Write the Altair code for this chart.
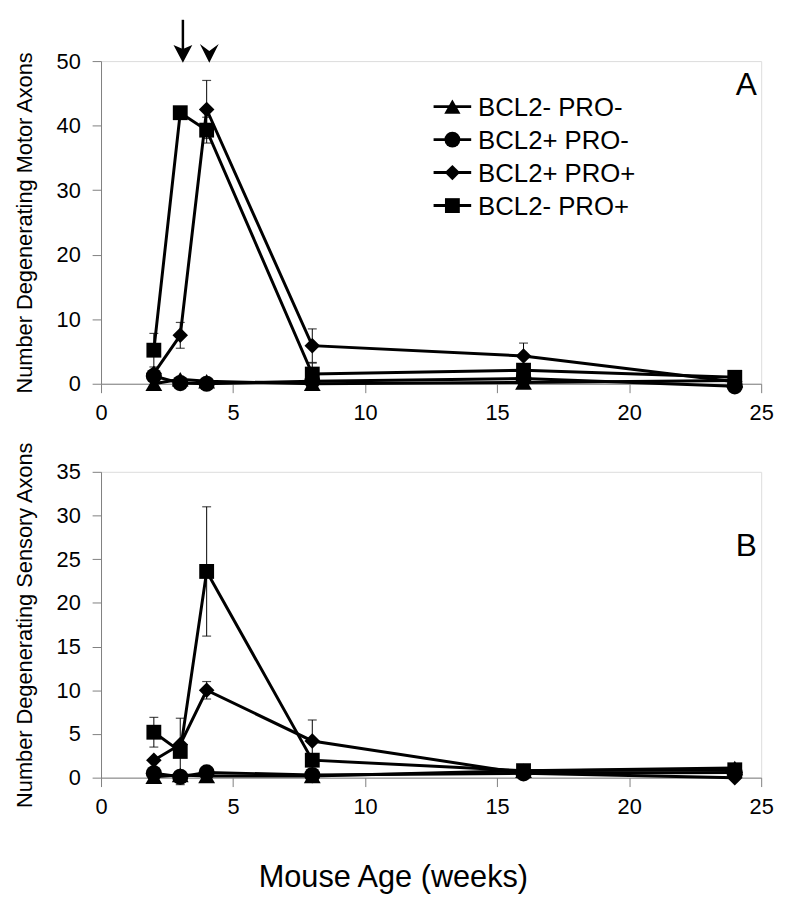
import altair as alt
import pandas as pd

weeks = [2, 3, 4, 8, 16, 24]
series = ["BCL2- PRO-", "BCL2+ PRO-", "BCL2+ PRO+", "BCL2- PRO+"]
shapes = ["triangle-up", "circle", "diamond", "square"]
marker_sizes = [289, 225, 270, 289]
legend_sizes = [270, 225, 240, 256]

# Panel A: motor axons
motor_tri = [0.0, 0.7, 0.4, 0.0, 0.2, 0.5]
motor_circ = [1.2, 0.1, 0.0, 0.4, 0.8, -0.4]
motor_diam = [1.6, 7.5, 42.5, 5.9, 4.3, 0.3]
motor_sq = [5.2, 42.0, 39.3, 1.5, 2.1, 1.0]
motor_diam_err = [0, 2.0, 4.5, 2.6, 2.0, 0]
motor_sq_err = [2.6, 0, 2.0, 1.7, 0, 0]

# Panel B: sensory axons
sens_tri = [0.1, 0.3, 0.2, 0.2, 0.8, 1.1]
sens_circ = [0.5, 0.1, 0.6, 0.3, 0.5, 0.6]
sens_diam = [2.0, 3.8, 10.0, 4.2, 0.5, 0.0]
sens_sq = [5.2, 3.0, 23.6, 2.0, 0.8, 0.9]
sens_diam_err = [0, 0, 1.0, 2.4, 0, 0]
sens_sq_err = [1.7, 3.8, 7.4, 0, 0, 0]

# arrows above panel A (weeks, shaft top, head centre)
arrow_weeks = [3.1, 4.1]
arrow_top = [56.4, 51.2]
arrow_head = [51.2, 51.2]
arrow_shapes = ["M0,1L-1,-0.9L0,-0.45L1,-0.9Z", "M0,1L-1,-1L0,-0.25L1,-1Z"]

FONT = "Liberation Sans"


def build_frames(vals, errs):
    rows, erows = [], []
    for s, v in zip(series, vals):
        for w, y in zip(weeks, v):
            rows.append({"week": w, "value": y, "series": s})
    for s, v, e in errs:
        for w, y, d in zip(weeks, v, e):
            if d > 0:
                erows.append({"week": w, "value": y - d, "value2": y + d, "series": s})
    return pd.DataFrame(rows), pd.DataFrame(erows)


def panel(vals, errs, ymax, ystep, title, height, letter, letter_y, legend=False, arrows=False):
    df, edf = build_frames(vals, errs)
    x = alt.X("week:Q", scale=alt.Scale(domain=[0, 25], nice=False),
              axis=alt.Axis(values=list(range(0, 26, 5)), title=None, grid=False,
                            domainColor="#808080", tickColor="#808080", tickSize=9,
                            labelFontSize=22, labelFont=FONT, labelColor="black",
                            labelPadding=10, labelFlush=False))
    y = alt.Y("value:Q", scale=alt.Scale(domain=[0, ymax], nice=False),
              axis=alt.Axis(values=list(range(0, ymax + 1, ystep)), title=title, grid=False,
                            domainColor="#808080", tickColor="#808080", tickSize=9,
                            labelFontSize=22, labelFont=FONT, labelColor="black",
                            labelPadding=12, titleFont=FONT, titleFontSize=22,
                            titleFontWeight="normal", titleColor="black", titlePadding=20))
    lines = alt.Chart(df).mark_line(color="black", strokeWidth=3).encode(
        x=x, y=y, detail="series:N")
    bars = alt.Chart(edf).mark_rule(color="black", strokeWidth=1).encode(
        x=x, y=y, y2="value2:Q")
    lo_caps = alt.Chart(edf).mark_tick(orient="horizontal", size=9, thickness=1.2,
                                       color="black").encode(x=x, y=y)
    hi_caps = alt.Chart(edf).mark_tick(orient="horizontal", size=9, thickness=1.2,
                                       color="black").encode(x=x, y=alt.Y("value2:Q"))
    shape_enc = alt.Shape("series:N", scale=alt.Scale(domain=series, range=shapes), legend=None)
    pts = alt.Chart(df).mark_point(filled=True, color="black", opacity=1).encode(
        x=x, y=y, shape=shape_enc,
        size=alt.Size("series:N", scale=alt.Scale(domain=series, range=marker_sizes), legend=None),
    )
    letter_txt = alt.Chart(pd.DataFrame({"t": [letter]})).mark_text(
        font=FONT, fontSize=32, color="black", align="center", baseline="middle").encode(
        text="t:N", x=alt.value(652), y=alt.value(letter_y))
    layers = [bars, lo_caps, hi_caps, lines, pts, letter_txt]
    if arrows:
        adf = pd.DataFrame({"week": arrow_weeks, "value": arrow_top, "value2": arrow_head})
        shaft = alt.Chart(adf).mark_rule(color="black", strokeWidth=2.5).encode(
            x=x, y=y, y2="value2:Q")
        layers.append(shaft)
        for i in range(len(arrow_weeks)):
            hdf = pd.DataFrame({"week": [arrow_weeks[i]], "value": [arrow_head[i]]})
            layers.append(alt.Chart(hdf).mark_point(
                filled=True, color="black", opacity=1, size=361, shape=arrow_shapes[i]).encode(
                x=x, y=y))
    ch = alt.layer(*layers)
    if legend:
        ldf = pd.DataFrame({"series": series, "idx": list(range(len(series)))})
        ly = alt.Y("idx:Q", scale=alt.Scale(domain=[0, 3], range=[46, 146]), axis=None)
        lbase = alt.Chart(ldf)
        lline = lbase.mark_rule(color="black", strokeWidth=3).encode(
            x=alt.value(336), x2=alt.value(374), y=ly)
        lpts = lbase.mark_point(filled=True, color="black", opacity=1).encode(
            x=alt.value(355), y=ly,
            shape=alt.Shape("series:N", scale=alt.Scale(domain=series, range=shapes), legend=None),
            size=alt.Size("series:N", scale=alt.Scale(domain=series, range=legend_sizes), legend=None))
        ltxt = lbase.mark_text(font=FONT, fontSize=26, color="black", align="left",
                               baseline="middle", dy=1).encode(
            x=alt.value(381), y=ly, text="series:N")
        leg = alt.layer(lline, lpts, ltxt)
        ch = alt.layer(ch, leg).resolve_scale(y="independent", shape="independent",
                                              size="independent")
    return ch.properties(width=667, height=height)


top = panel([motor_tri, motor_circ, motor_diam, motor_sq],
            [("BCL2+ PRO+", motor_diam, motor_diam_err), ("BCL2- PRO+", motor_sq, motor_sq_err)],
            50, 10, "Number Degenerating Motor Axons", 326, "A", 24, legend=True, arrows=True)
bottom = panel([sens_tri, sens_circ, sens_diam, sens_sq],
               [("BCL2+ PRO+", sens_diam, sens_diam_err), ("BCL2- PRO+", sens_sq, sens_sq_err)],
               35, 5, "Number Degenerating Sensory Axons", 309, "B", 75)

xtitle = alt.TitleParams("Mouse Age (weeks)", orient="bottom", anchor="middle", font=FONT,
                         fontSize=31, fontWeight="normal", color="black", offset=46)

chart = alt.vconcat(top, bottom, spacing=16).properties(title=xtitle).configure_view(
    stroke=None).configure(background="white")

chart.save("out.html", embed_options={"renderer": "svg", "actions": False})
